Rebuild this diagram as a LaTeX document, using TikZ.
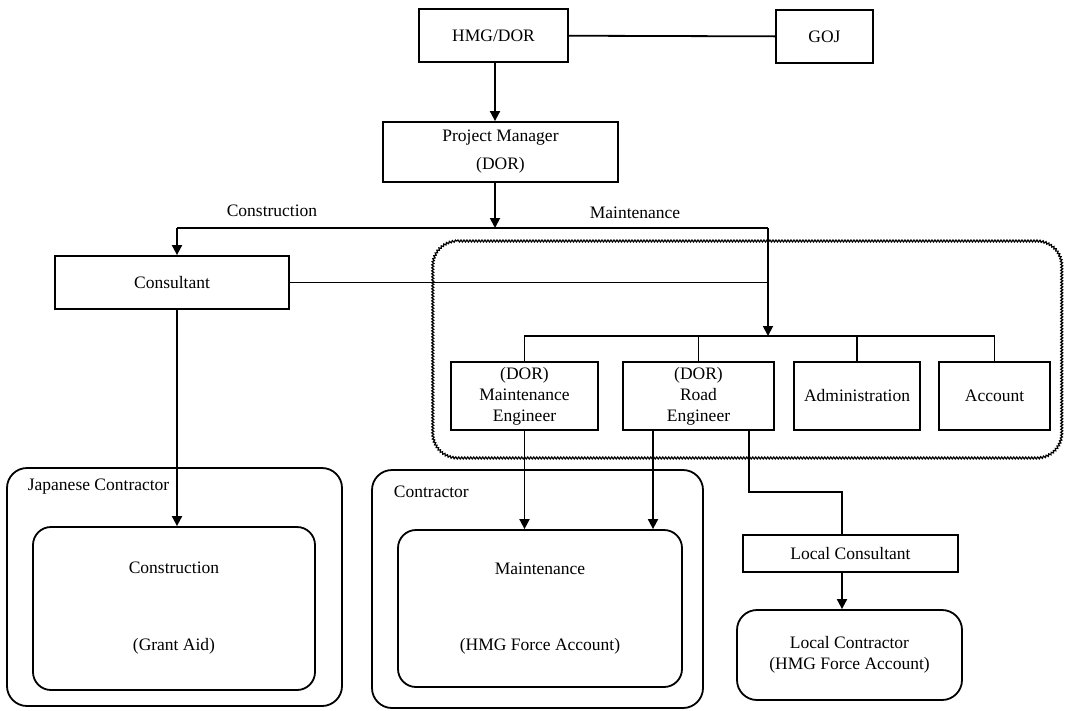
\documentclass[tikz,border=0pt]{standalone}
\usepackage{fontspec}
\setmainfont{Liberation Serif}
\usetikzlibrary{arrows.meta,decorations.pathmorphing}

\begin{document}
\begin{tikzpicture}[x=1pt, y=-1pt, line width=1.8pt,
		font=\fontsize{17.5}{21}\selectfont,
		box/.style={draw=black, inner sep=0pt, align=center},
		roundbox/.style={box, rounded corners=20pt},
		grouplabel/.style={anchor=west, inner sep=0pt},
		arr/.style={-{Triangle[width=10pt,length=10pt]}},
		wavy/.style={draw=black, line width=1.2pt, decorate,
			decoration={snake, segment length=3pt, amplitude=1pt}}]
	\useasboundingbox (0,0) rectangle (1065,710);
	% top of the chart
	\node[box, minimum width=149pt, minimum height=53pt] (hmg) at (493.5,35.5) {HMG/DOR};
	\node[box, minimum width=97pt, minimum height=53pt] (goj) at (824.5,36.5) {GOJ};
	\node[box, minimum width=235pt, minimum height=60pt] (pm) at (500.5,152) {Project Manager\\[7pt](DOR)};
	\node[box, minimum width=234pt, minimum height=53pt] (cons) at (172,282.5) {Consultant};
	% maintenance group (wavy rounded frame)
	\draw[wavy] (457,241) -- (1036,241) .. controls (1050,241) and (1061,252) .. (1061,266)
		-- (1061,433) .. controls (1061,447) and (1050,458) .. (1036,458)
		-- (457,458) .. controls (443,458) and (432,447) .. (432,433)
		-- (432,266) .. controls (432,252) and (443,241) .. (457,241) -- cycle;
	\node[box, minimum width=147pt, minimum height=68pt] (me) at (524.5,396) {(DOR)\\Maintenance\\Engineer};
	\node[box, minimum width=151pt, minimum height=68pt] (re) at (698.5,396) {(DOR)\\Road\\Engineer};
	\node[box, minimum width=126pt, minimum height=68pt] (adm) at (857,396) {Administration};
	\node[box, minimum width=111pt, minimum height=68pt] (acc) at (994.5,396) {Account};
	% contractors
	\node[roundbox, minimum width=335pt, minimum height=238pt] (jc) at (174.5,587) {};
	\node[grouplabel] (jclabel) at (27,487) {Japanese Contractor};
	\node[roundbox, rounded corners=18pt, minimum width=282pt, minimum height=163pt] (csin) at (174,608.5) {Construction\\[56pt](Grant Aid)};
	\node[roundbox, minimum width=331pt, minimum height=238pt] (ctr) at (537.5,589) {};
	\node[grouplabel] (ctrlabel) at (393,492) {Contractor};
	\node[roundbox, rounded corners=18pt, minimum width=284pt, minimum height=157pt] (mtin) at (540,608.5) {Maintenance\\[55pt](HMG Force Account)};
	\node[box, minimum width=215pt, minimum height=37pt] (lcons) at (850.5,553.5) {Local Consultant};
	\node[roundbox, minimum width=225pt, minimum height=90pt] (lctr) at (849.5,655) {Local Contractor\\(HMG Force Account)};
	% branch points
	\coordinate (split) at (495,228);
	\coordinate (left) at (177,228);
	\coordinate (right) at (768,228);
	\coordinate (jn) at (768,336);
	\coordinate (reout) at (653,430);
	\coordinate (relocal) at (749,430);
	\coordinate (bend) at (842,492);
	\node[inner sep=0pt] (constext) at (272,211) {Construction};
	\node[inner sep=0pt] (mainttext) at (635,213) {Maintenance};
	% connectors
	\draw (hmg) -- (goj);
	\draw[arr] (hmg.south -| split) -- (pm.north -| split);
	\draw[arr] (pm.south -| split) -- (split);
	\draw (left) -- (right);
	\draw[arr] (left) -- (cons.north -| left);
	\draw[arr] (right) -- (jn);
	\draw (cons.east) -- (cons.east -| right);
	\draw (me.north) -- (me.north |- jn) -- (acc.north |- jn) -- (acc.north);
	\draw (re.north) -- (re.north |- jn);
	\draw (adm.north) -- (adm.north |- jn);
	\draw[arr] (cons.south -| left) -- (csin.north -| left);
	\draw[arr] (me.south) -- (me.south |- mtin.north);
	\draw[arr] (reout) -- (reout |- mtin.north);
	\draw (relocal) |- (bend) -- (bend |- lcons.north);
	\draw[arr] (lcons.south -| bend) -- (lctr.north -| bend);
\end{tikzpicture}
\end{document}
